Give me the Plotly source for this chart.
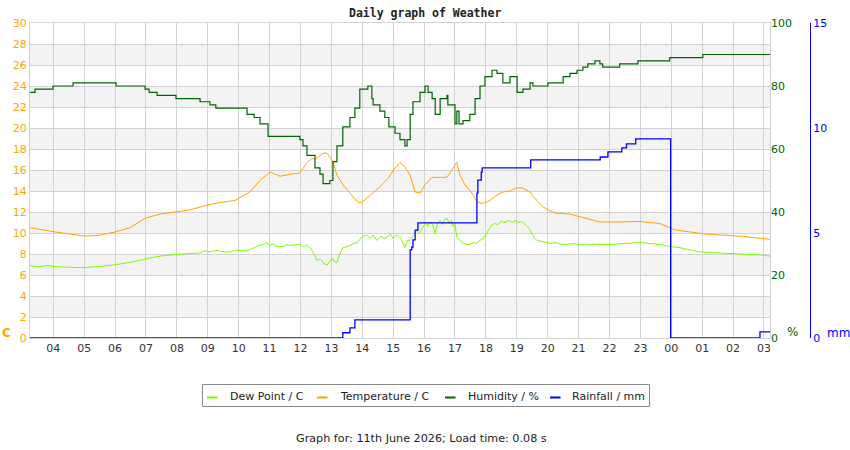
import plotly.graph_objects as go

# ---------------- data (hours since midnight of the start day) ----------------
hum_t = [3.25, 3.41, 3.99, 4.64, 6.03, 6.97, 7.10, 7.36, 7.97, 8.75, 9.07, 9.26, 10.01,
         10.27, 10.50, 10.69, 10.95, 11.98, 12.08, 12.21, 12.47, 12.63, 12.73, 12.95,
         13.05, 13.18, 13.37, 13.60, 13.76, 13.92, 14.02, 14.18, 14.31, 14.35, 14.57,
         14.73, 14.86, 15.06, 15.22, 15.38, 15.45, 15.55, 15.64, 15.87, 16.03, 16.13,
         16.26, 16.36, 16.52, 16.74, 16.77, 17.00, 17.06, 17.13, 17.26, 17.48, 17.65,
         17.81, 17.97, 18.20, 18.36, 18.55, 18.78, 19.01, 19.20, 19.43, 19.52, 19.75,
         20.01, 20.50, 20.72, 20.95, 21.14, 21.30, 21.53, 21.69, 21.78, 22.24, 22.33,
         22.76, 22.92, 23.86, 23.95, 24.83, 25.02, 27.20]
hum_v = [78, 79, 80, 81, 80, 79, 78, 77, 76, 75, 74, 73, 73,
         71, 70, 68, 64, 63, 61, 58, 54, 52, 49, 50,
         56, 61, 67, 70, 73, 79, 79, 80, 76, 74, 72,
         70, 67, 65, 63, 61, 63, 71, 75, 78, 80, 78,
         76, 71, 76, 77, 74, 68, 72, 68, 69, 71, 76,
         80, 83, 85, 84, 81, 83, 78, 79, 81, 80, 80,
         81, 83, 84, 85, 86, 87, 88, 87, 86, 86, 87,
         87, 88, 88, 89, 89, 90, 90]

temp_t = [3.25, 4.06, 5.03, 5.51, 6.00, 6.48, 6.97, 7.45, 7.94, 8.42, 8.91, 9.39, 9.88,
          10.36, 10.69, 11.01, 11.34, 11.66, 11.98, 12.21, 12.37, 12.47, 12.73, 12.86,
          13.05, 13.18, 13.37, 13.60, 13.86, 13.99, 14.25, 14.57, 14.83, 15.06, 15.22,
          15.38, 15.55, 15.71, 15.87, 16.03, 16.26, 16.52, 16.74, 16.94, 17.06, 17.16,
          17.32, 17.55, 17.71, 17.88, 18.07, 18.36, 18.55, 18.78, 19.01, 19.17, 19.43,
          19.65, 19.85, 20.01, 20.24, 20.72, 21.21, 21.69, 22.34, 22.98, 23.63, 24.11,
          24.60, 25.09, 26.22, 27.03, 27.20]
temp_v = [10.5, 10.1, 9.7, 9.8, 10.1, 10.5, 11.4, 11.8, 12.0, 12.2, 12.6, 12.9, 13.1,
          13.9, 15.0, 15.8, 15.4, 15.6, 15.7, 16.7, 17.1, 17.0, 17.6, 17.6,
          16.8, 15.5, 14.6, 13.8, 12.9, 12.9, 13.6, 14.4, 15.2, 16.2, 16.7,
          16.3, 15.5, 13.9, 13.8, 14.6, 15.3, 15.3, 15.3, 16.2, 16.7, 15.5,
          14.6, 13.8, 13.0, 12.8, 13.0, 13.6, 13.9, 14.0, 14.3, 14.3, 13.9,
          13.1, 12.5, 12.2, 11.9, 11.8, 11.4, 11.05, 11.05, 11.1, 10.9, 10.3,
          10.1, 9.9, 9.7, 9.4, 9.4]

dew_t = [3.25, 3.5, 3.8, 4.06, 4.4, 4.86, 5.2, 5.51, 5.8, 6.16, 6.5, 6.81, 7.1, 7.45,
         7.8, 8.10, 8.4, 8.75, 8.9, 9.07, 9.3, 9.5, 9.72, 9.9, 10.1, 10.36, 10.5, 10.65,
         10.8, 10.91, 11.0, 11.1, 11.25, 11.43, 11.55, 11.7, 11.85, 11.98, 12.1, 12.2,
         12.31, 12.4, 12.53, 12.65, 12.75, 12.86, 12.95, 13.02, 13.1, 13.18, 13.27, 13.37,
         13.5, 13.6, 13.7, 13.83, 13.95, 14.05, 14.15, 14.25, 14.35, 14.47, 14.6, 14.7,
         14.80, 14.9, 15.0, 15.12, 15.2, 15.3, 15.38, 15.46, 15.55, 15.65, 15.77, 15.85,
         15.96, 16.05, 16.12, 16.19, 16.28, 16.36, 16.44, 16.52, 16.6, 16.67, 16.74,
         16.82, 16.88, 16.94, 17.0, 17.06, 17.15, 17.26, 17.36, 17.48, 17.6, 17.7, 17.81,
         17.92, 18.03, 18.12, 18.20, 18.3, 18.39, 18.5, 18.62, 18.75, 18.85, 18.94, 19.05,
         19.15, 19.27, 19.35, 19.43, 19.55, 19.65, 19.78, 19.91, 20.1, 20.25, 20.4, 20.6,
         20.8, 21.04, 21.3, 21.5, 21.69, 22.0, 22.34, 22.6, 22.98, 23.3, 23.63, 24.0,
         24.28, 24.6, 24.93, 25.2, 25.57, 26.0, 26.54, 26.9, 27.20]
dew_v = [6.9, 6.8, 6.9, 6.8, 6.75, 6.7, 6.75, 6.8, 6.9, 7.05, 7.2, 7.4, 7.6, 7.8,
         7.9, 8.0, 8.05, 8.1, 8.3, 8.2, 8.35, 8.2, 8.2, 8.4, 8.3, 8.4, 8.6, 8.8,
         8.9, 9.1, 8.8, 9.0, 8.7, 8.7, 8.9, 8.8, 8.9, 8.9, 8.7, 8.9,
         8.6, 8.2, 7.4, 7.5, 7.1, 6.95, 7.3, 7.6, 7.3, 7.2, 8.0, 8.6,
         8.7, 8.8, 9.0, 9.05, 9.5, 9.7, 9.8, 9.5, 9.8, 9.3, 9.7, 9.5,
         9.6, 9.9, 9.5, 9.8, 9.6, 9.2, 8.6, 9.3, 9.3, 9.8, 10.3, 10.0,
         10.6, 10.9, 10.7, 11.05, 10.8, 10.0, 10.9, 11.2, 10.9, 11.3, 11.4,
         10.9, 11.2, 10.6, 10.9, 9.6, 9.3, 9.05, 8.9, 8.9, 9.1, 9.0, 9.3,
         9.5, 10.0, 10.4, 10.8, 10.9, 10.8, 11.1, 11.0, 11.2, 11.0, 11.2, 11.0,
         11.1, 10.8, 10.6, 10.3, 9.6, 9.3, 9.2, 9.1, 9.0, 9.1, 8.95, 8.9,
         9.0, 8.9, 8.85, 8.95, 8.9, 8.9, 8.95, 9.0, 9.1, 9.0, 8.9, 8.7,
         8.6, 8.4, 8.2, 8.15, 8.1, 8.05, 8.0, 7.9, 7.8]

rain_t = [3.25, 13.37, 13.60, 13.76, 15.45, 15.55, 15.60, 15.64, 15.71, 15.80, 17.65,
          17.71, 17.74, 17.85, 17.88, 19.43, 19.45, 21.69, 21.70, 21.95, 22.40, 22.55,
          22.85, 23.97, 23.98, 26.85, 26.87, 27.20]
rain_v = [0.0, 0.25, 0.48, 0.86, 0.86, 4.2, 4.33, 4.67, 5.14, 5.48, 5.48,
          6.9, 7.52, 7.9, 8.1, 8.1, 8.48, 8.48, 8.62, 8.86, 9.05, 9.24,
          9.48, 9.48, 0.0, 0.0, 0.29, 0.29]

hour_ticks = list(range(4, 28))
hour_labels = ["%02d" % (h % 24) for h in hour_ticks]
temp_ticks = list(range(0, 31, 2))
hum_ticks = [0, 20, 40, 60, 80, 100]
rain_ticks = [0, 5, 10, 15]

series_names = ["Dew Point / C", "Temperature / C", "Humidity / %", "Rainfall / mm"]
series_colors = ["#7cfc00", "#ffa500", "#006400", "#0000ff"]

title_text = "Daily graph of Weather"
footer_text = "Graph for: 11th June 2026; Load time: 0.08 s"

# ---------------- figure ----------------
W, H = 850, 450
ML, MR, MT, MB = 30, 40, 23, 112
PW = W - ML - MR
PH = H - MT - MB


def px(x):
    return (x - ML) / PW


def py(y):
    return (H - MB - y) / PH


FONT = "DejaVu Sans"

fig = go.Figure()
fig.add_trace(go.Scatter(x=dew_t, y=dew_v, name=series_names[0], mode="lines",
                         line=dict(color=series_colors[0], width=1), yaxis="y"))
fig.add_trace(go.Scatter(x=temp_t, y=temp_v, name=series_names[1], mode="lines",
                         line=dict(color=series_colors[1], width=1), yaxis="y"))
fig.add_trace(go.Scatter(x=hum_t, y=hum_v, name=series_names[2], mode="lines",
                         line=dict(color=series_colors[2], width=1.2, shape="hv"),
                         yaxis="y2"))
fig.add_trace(go.Scatter(x=rain_t, y=rain_v, name=series_names[3], mode="lines",
                         line=dict(color=series_colors[3], width=1.3, shape="hv"),
                         yaxis="y3"))

shapes = []
# alternating grey bands
for lo in temp_ticks[1:-1:2]:
    shapes.append(dict(type="rect", xref="x domain", yref="y", x0=0, x1=1,
                       y0=lo, y1=lo + 2, fillcolor="#f3f3f3", line_width=0,
                       layer="below"))

annotations = []
# manual legend
shapes.append(dict(type="rect", xref="paper", yref="paper",
                   x0=px(202.5), x1=px(649.5), y0=py(384.5), y1=py(406.5),
                   line=dict(color="#888888", width=1), fillcolor="white"))
leg_sample_x = [207, 317, 445, 550]
leg_text_x = [227.5, 338, 466, 570]
for i, name in enumerate(series_names):
    shapes.append(dict(type="line", xref="paper", yref="paper",
                       x0=px(leg_sample_x[i]), x1=px(leg_sample_x[i] + 10.5),
                       y0=py(397.5), y1=py(397.5),
                       line=dict(color=series_colors[i], width=2)))
    annotations.append(dict(text=name, xref="paper", yref="paper",
                            x=px(leg_text_x[i]), y=py(396.5), xanchor="left",
                            yanchor="middle", showarrow=False,
                            font=dict(family=FONT, size=11, color="#222222")))

annotations += [
    dict(text="<b>" + title_text + "</b>", xref="paper", yref="paper",
         x=px(425), y=py(13), xanchor="center", yanchor="middle", showarrow=False,
         font=dict(family="DejaVu Sans Mono", size=11.5, color="#222222")),
    dict(text=footer_text, xref="paper", yref="paper", x=px(421), y=py(438),
         xanchor="center", yanchor="middle", showarrow=False,
         font=dict(family=FONT, size=11.2, color="#222222")),
    dict(text="<b>C</b>", xref="paper", yref="paper", x=px(6), y=py(333),
         xanchor="center", yanchor="middle", showarrow=False,
         font=dict(family=FONT, size=12, color="#ffa500")),
    dict(text="%", xref="paper", yref="paper", x=px(785), y=py(332),
         xanchor="left", yanchor="middle", showarrow=False,
         font=dict(family=FONT, size=12, color="#006400")),
    dict(text="mm", xref="paper", yref="paper", x=px(825), y=py(333),
         xanchor="left", yanchor="middle", showarrow=False,
         font=dict(family=FONT, size=12, color="#0000ff")),
]

fig.update_layout(
    width=W, height=H,
    margin=dict(l=ML, r=MR, t=MT, b=MB, pad=0),
    paper_bgcolor="white", plot_bgcolor="white",
    showlegend=False,
    font=dict(family=FONT, size=11),
    xaxis=dict(domain=[0, 740 / PW], range=[3.246, 27.195], tickmode="array",
               tickvals=hour_ticks, ticktext=hour_labels, showgrid=True,
               gridcolor="#d3d3d3", gridwidth=1, showline=True, mirror=True,
               linecolor="#d3d3d3", linewidth=1, zeroline=False, ticks="",
               tickfont=dict(family=FONT, size=11, color="#333333")),
    yaxis=dict(range=[0, 30], tickmode="array", tickvals=temp_ticks,
               showgrid=True, gridcolor="#d3d3d3", gridwidth=1, showline=True,
               mirror=True, linecolor="#d3d3d3", zeroline=False, ticks="",
               tickfont=dict(family=FONT, size=11, color="#ffa500")),
    yaxis2=dict(range=[0, 100], overlaying="y", side="right", anchor="x",
                tickmode="array", tickvals=hum_ticks, showgrid=False,
                zeroline=False, showline=False, ticks="",
                tickfont=dict(family=FONT, size=11, color="#006400")),
    yaxis3=dict(range=[0, 15], overlaying="y", side="right", anchor="free",
                position=1.0, tickmode="array", tickvals=rain_ticks,
                showgrid=False, zeroline=False, showline=True,
                linecolor="#0000ff", linewidth=1.3, ticks="",
                tickfont=dict(family=FONT, size=11, color="#0000ff")),
    shapes=shapes, annotations=annotations,
)

fig.write_html("out.html")
